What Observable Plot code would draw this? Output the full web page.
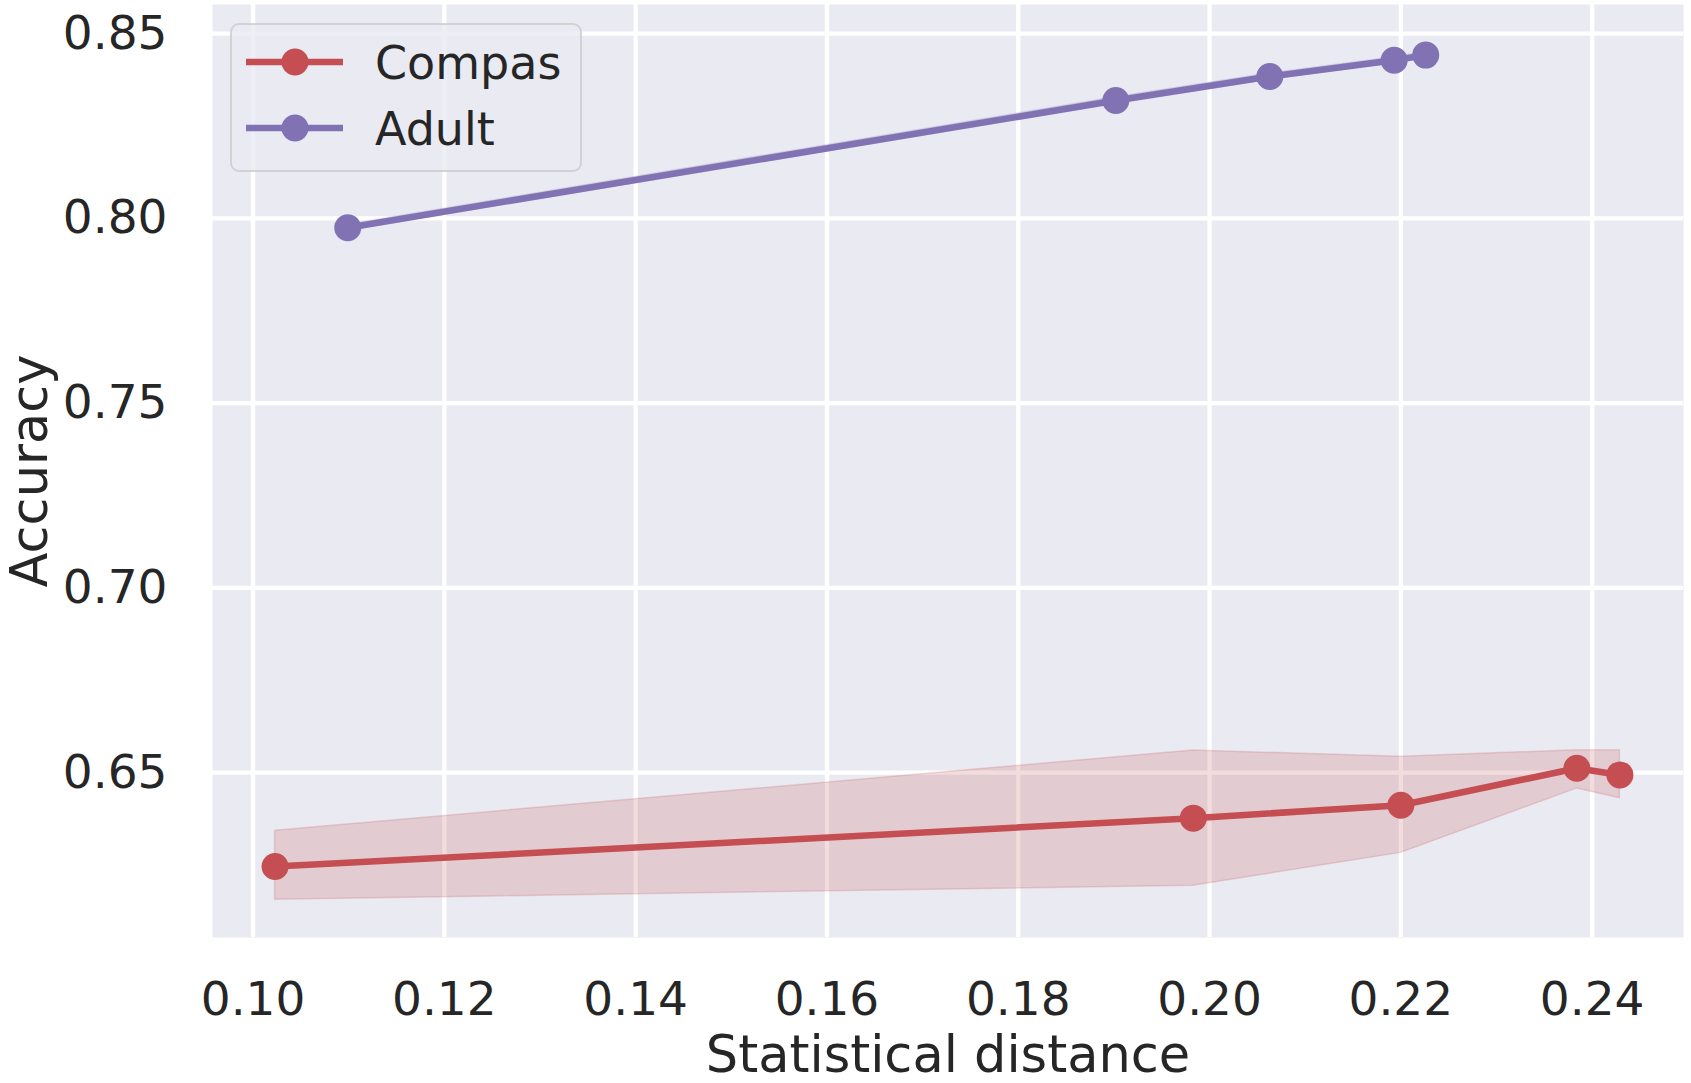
<!DOCTYPE html>
<html>
<head>
<meta charset="utf-8">
<script src="https://cdn.jsdelivr.net/npm/d3@7"></script>
<script src="https://cdn.jsdelivr.net/npm/@observablehq/plot@0.6"></script>
<style>
  body { margin: 0; background: white; }
  #wrap { position: relative; width: 1691px; height: 1083px; font-family: "DejaVu Sans", sans-serif; }
  #legend { position: absolute; left: 0; top: 0; pointer-events: none; }
</style>
</head>
<body>
<div id="wrap"></div>
<script>
// ---- data ----
const seriesNames = ["Compas", "Adult"];
const seriesColors = ["#C44E52", "#8172B3"];

const compasX    = [0.1023, 0.1983, 0.2200, 0.2384, 0.2429];
const compasAcc  = [0.6246, 0.6377, 0.6412, 0.6512, 0.6494];
const compasLow  = [0.6156, 0.6194, 0.6283, 0.6457, 0.6431];
const compasHigh = [0.6343, 0.6560, 0.6543, 0.6561, 0.6561];

const adultX    = [0.1099, 0.1902, 0.2063, 0.2193, 0.2226];
const adultAcc  = [0.7975, 0.8319, 0.8384, 0.8428, 0.8442];
const adultLow  = [0.7967, 0.8310, 0.8376, 0.8420, 0.8434];
const adultHigh = [0.7983, 0.8328, 0.8392, 0.8436, 0.8450];

const xTicks = [0.10, 0.12, 0.14, 0.16, 0.18, 0.20, 0.22, 0.24];
const yTicks = [0.65, 0.70, 0.75, 0.80, 0.85];
const xLabel = "Statistical distance";
const yLabel = "Accuracy";

// ---- build rows ----
const rows = [];
compasX.forEach((x, i) => rows.push({series: seriesNames[0], x, y: compasAcc[i], lo: compasLow[i], hi: compasHigh[i]}));
adultX.forEach((x, i) => rows.push({series: seriesNames[1], x, y: adultAcc[i], lo: adultLow[i], hi: adultHigh[i]}));

const color = {domain: seriesNames, range: seriesColors};
const fmt = d3.format(".2f");
const textColor = "#262626";

const chart = Plot.plot({
  width: 1691,
  height: 1083,
  marginLeft: 212,
  marginRight: 8,
  marginTop: 4,
  marginBottom: 146,
  style: {fontFamily: "DejaVu Sans", color: textColor, background: "white", overflow: "visible"},
  x: {domain: [0.09576, 0.24955]},
  y: {domain: [0.6054, 0.8579]},
  color,
  marks: [
    Plot.frame({fill: "#EAEAF2", stroke: "none"}),
    Plot.gridX(xTicks, {stroke: "white", strokeOpacity: 1, strokeWidth: 4.3}),
    Plot.gridY(yTicks, {stroke: "white", strokeOpacity: 1, strokeWidth: 4.3}),
    Plot.axisX(xTicks, {tickSize: 0, tickPadding: 44, fontSize: 47, tickFormat: fmt, label: null, fill: textColor}),
    Plot.axisY(yTicks, {tickSize: 0, tickPadding: 45, fontSize: 47, tickFormat: fmt, label: null, fill: textColor}),
    Plot.axisX([], {tickSize: 0, fontSize: 51, label: xLabel, labelAnchor: "center", labelOffset: 134, labelArrow: "none", fill: textColor}),
    Plot.axisY([], {tickSize: 0, fontSize: 51, label: yLabel, labelAnchor: "center", labelOffset: 202, labelArrow: "none", fill: textColor}),
    Plot.areaY(rows, {x: "x", y1: "lo", y2: "hi", z: "series", fill: "series", fillOpacity: 0.2, stroke: "series", strokeOpacity: 0.2, strokeWidth: 1.5}),
    Plot.lineY(rows, {x: "x", y: "y", z: "series", stroke: "series", strokeWidth: 6.5}),
    Plot.dot(rows, {x: "x", y: "y", fill: "series", r: 13.5, stroke: "none"})
  ]
});

const wrap = document.getElementById("wrap");
wrap.appendChild(chart);

// ---- legend (overlay inside plot area, upper left) ----
const ns = "http://www.w3.org/2000/svg";
const lg = document.createElementNS(ns, "svg");
lg.setAttribute("id", "legend");
lg.setAttribute("width", 1691);
lg.setAttribute("height", 300);
const box = document.createElementNS(ns, "rect");
box.setAttribute("x", 231); box.setAttribute("y", 24);
box.setAttribute("width", 350); box.setAttribute("height", 147);
box.setAttribute("rx", 8);
box.setAttribute("fill", "rgba(234,234,242,0.8)");
box.setAttribute("stroke", "rgba(204,204,204,0.8)");
box.setAttribute("stroke-width", 2);
lg.appendChild(box);
const rowY = [62, 128];
seriesNames.forEach((name, i) => {
  const ln = document.createElementNS(ns, "line");
  ln.setAttribute("x1", 246); ln.setAttribute("x2", 343);
  ln.setAttribute("y1", rowY[i]); ln.setAttribute("y2", rowY[i]);
  ln.setAttribute("stroke", seriesColors[i]); ln.setAttribute("stroke-width", 6.5);
  lg.appendChild(ln);
  const c = document.createElementNS(ns, "circle");
  c.setAttribute("cx", 295); c.setAttribute("cy", rowY[i]); c.setAttribute("r", 13.5);
  c.setAttribute("fill", seriesColors[i]);
  lg.appendChild(c);
  const t = document.createElementNS(ns, "text");
  t.setAttribute("x", 375); t.setAttribute("y", rowY[i]);
  t.setAttribute("dy", "0.36em");
  t.setAttribute("font-size", 46);
  t.setAttribute("font-family", "DejaVu Sans");
  t.setAttribute("fill", textColor);
  t.textContent = name;
  lg.appendChild(t);
});
wrap.appendChild(lg);
</script>
</body>
</html>
